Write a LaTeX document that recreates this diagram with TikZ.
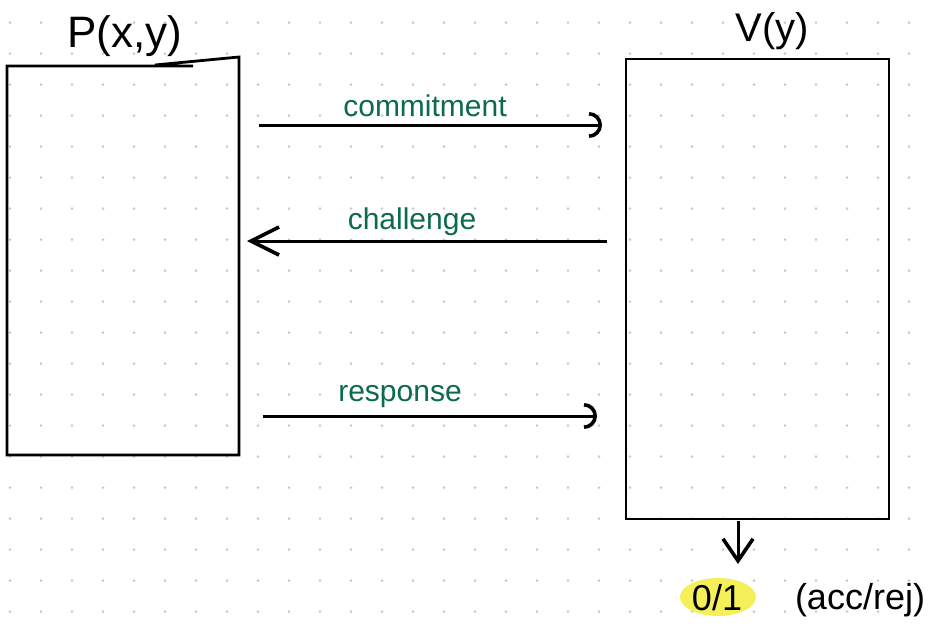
\documentclass[tikz,border=0pt]{standalone}
\usepackage{fontspec}
\setmainfont{Liberation Sans}
\usetikzlibrary{arrows.meta}
\definecolor{inkgreen}{HTML}{0B6B4C}
\definecolor{griddot}{HTML}{CCCCCC}
\definecolor{hilite}{HTML}{F5F05A}
\tikzset{
  boxline/.style={draw=black, line width=2.8pt},
  msg/.style={line width=3pt, black},
  lbl/.style={text=inkgreen, font=\fontsize{30}{30}\selectfont, inner sep=0pt},
  title/.style={text=black, font=\fontsize{44}{44}\selectfont, inner sep=0pt},
  arcHead/.style={-{Arc Barb[length=13pt, arc=180, line width=3.6pt]}},
  barbHead/.style={-{Straight Barb[length=28pt, width=28pt, line width=3.6pt]}},
  downHead/.style={-{Straight Barb[length=22pt, width=30pt, line width=3.6pt]}}
}
\begin{document}
\begin{tikzpicture}[x=1pt, y=-1pt]
\useasboundingbox[fill=white] (0,0) rectangle (937,625);
% dot grid
\foreach \i in {0,...,29} {
  \foreach \j in {0,...,19} {
    \fill[griddot] ({10+31*\i},{22.7+31*\j}) circle (1.5pt);
  }
}
% Prover box
\coordinate (ptl) at (7,66);
\coordinate (ptr) at (239,57);
\coordinate (pbr) at (239,455);
\coordinate (pbl) at (7,455);
\draw[boxline] (193,66) -- (ptl) -- (pbl) -- (pbr) -- (ptr) -- (155,65);
\node[title] (P) at (125,36) {P(x,y)};
% Verifier box
\node[boxline, minimum width=263pt, minimum height=460pt, inner sep=0pt] (V) at (757.5,289) {};
\node[title, font=\fontsize{40}{40}\selectfont] (Vt) at (772,31) {V(y)};
% messages
\coordinate (c1) at (259,125);
\coordinate (c2) at (602,125);
\draw[msg, arcHead] (c1) -- (c2);
\node[lbl] (commit) at (425,106) {commitment};
\coordinate (h1) at (607,241);
\coordinate (h2) at (247,241);
\draw[msg, barbHead] (h1) -- (h2);
\node[lbl] (chal) at (412,222) {challenge};
\coordinate (r1) at (263,416);
\coordinate (r2) at (597,416);
\draw[msg, arcHead] (r1) -- (r2);
\node[lbl] (resp) at (400,397) {response};
% output
\fill[hilite] (718,597) ellipse (38pt and 19pt);
\node[text=black, font=\fontsize{36}{36}\selectfont, inner sep=0pt] (out) at (717,598) {0/1};
\node[text=black, font=\fontsize{36}{36}\selectfont, inner sep=0pt] (acc) at (860,600) {(acc/rej)};
\coordinate (vout) at (738,521);
\draw[msg, downHead] (vout) -- (738,564);
\end{tikzpicture}
\end{document}
